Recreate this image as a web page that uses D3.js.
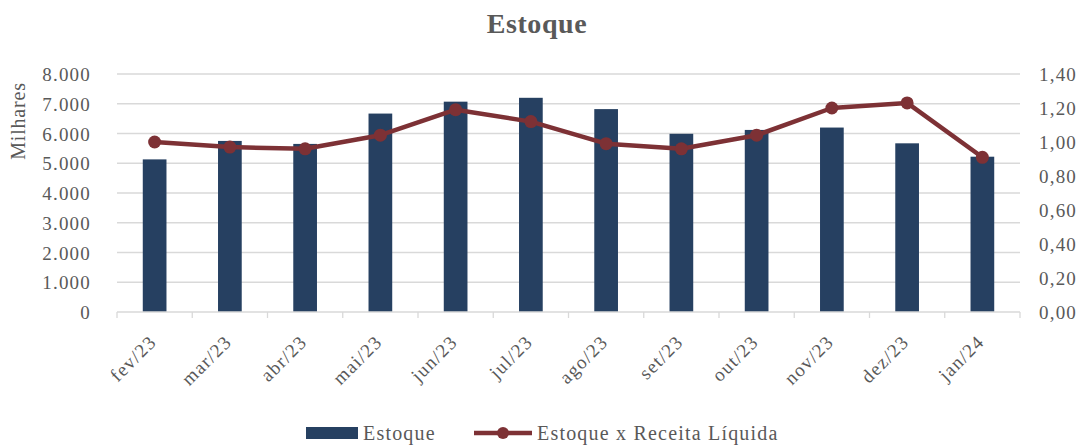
<!DOCTYPE html>
<html>
<head>
<meta charset="utf-8">
<script src="https://cdn.jsdelivr.net/npm/d3@7"></script>
<style>
  html, body { margin: 0; padding: 0; background: #fff; }
  svg { display: block; }
  text { font-family: "Liberation Serif", "Times New Roman", serif; fill: #595959; }
</style>
</head>
<body>
<svg id="chart" width="1082" height="445"></svg>
<script>
const categories = ["fev/23","mar/23","abr/23","mai/23","jun/23","jul/23","ago/23","set/23","out/23","nov/23","dez/23","jan/24"];
const estoque = [5130, 5750, 5650, 6670, 7070, 7200, 6820, 5990, 6120, 6200, 5670, 5220];
const ratio = [1.00, 0.97, 0.96, 1.04, 1.19, 1.12, 0.99, 0.96, 1.04, 1.20, 1.23, 0.91];
const leftTicks = [0, 1000, 2000, 3000, 4000, 5000, 6000, 7000, 8000];
const rightTicks = [0, 0.2, 0.4, 0.6, 0.8, 1.0, 1.2, 1.4];
const titleText = "Estoque";
const leftAxisTitle = "Milhares";
const seriesNames = ["Estoque", "Estoque x Receita Líquida"];

const barColor = "#264061";
const lineColor = "#7d3135";
const gridColor = "#d9d9d9";

const svg = d3.select("#chart");
const plot = { left: 117, right: 1020, top: 74, bottom: 312 };

const x = d3.scaleBand().domain(categories).range([plot.left, plot.right]).paddingInner(0).paddingOuter(0);
const yL = d3.scaleLinear().domain([0, 8000]).range([plot.bottom, plot.top]);
const yR = d3.scaleLinear().domain([0, 1.4]).range([plot.bottom, plot.top]);

const fmtL = v => d3.format(",")(v).replace(/,/g, ".");
const fmtR = v => d3.format(".2f")(v).replace(".", ",");

// gridlines
svg.append("g").selectAll("line").data(leftTicks.filter(d => d > 0)).join("line")
  .attr("x1", plot.left).attr("x2", plot.right)
  .attr("y1", d => yL(d)).attr("y2", d => yL(d))
  .attr("stroke", gridColor).attr("stroke-width", 1.3);

// left axis labels
const gL = svg.append("g").attr("transform", `translate(${plot.left},0)`)
  .call(d3.axisLeft(yL).tickValues(leftTicks).tickFormat(fmtL).tickSize(0).tickPadding(26));
gL.select(".domain").remove();
gL.selectAll("text").style("font-family", '"Liberation Serif", serif').style("font-size", "19px")
  .style("letter-spacing", "1.2px").attr("fill", "#595959").attr("dy", "0.35em");

// right axis labels
const gR = svg.append("g").attr("transform", `translate(${plot.right},0)`)
  .call(d3.axisRight(yR).tickValues(rightTicks).tickFormat(fmtR).tickSize(0).tickPadding(19));
gR.select(".domain").remove();
gR.selectAll("text").style("font-family", '"Liberation Serif", serif').style("font-size", "19px")
  .style("letter-spacing", "1.2px").attr("fill", "#595959").attr("dy", "0.35em");

// bars
const barW = x.bandwidth() * 0.315;
svg.append("g").selectAll("rect").data(categories).join("rect")
  .attr("x", (d) => x(d) + x.bandwidth() / 2 - barW / 2)
  .attr("y", (d, i) => yL(estoque[i]))
  .attr("width", barW)
  .attr("height", (d, i) => plot.bottom - yL(estoque[i]))
  .attr("fill", barColor);

// x axis
const gX = svg.append("g").attr("transform", `translate(0,${plot.bottom})`);
gX.append("line").attr("x1", plot.left).attr("x2", plot.right).attr("y1", 0).attr("y2", 0)
  .attr("stroke", gridColor).attr("stroke-width", 1.3);
const boundaries = categories.map(c => x(c)).concat([plot.right]);
gX.selectAll("line.tick").data(boundaries).join("line").attr("class", "tick")
  .attr("x1", d => d).attr("x2", d => d).attr("y1", 0).attr("y2", 6)
  .attr("stroke", gridColor).attr("stroke-width", 1.3);
gX.selectAll("text").data(categories).join("text")
  .attr("transform", d => `translate(${x(d) + x.bandwidth() / 2 + 3},${31}) rotate(-45)`)
  .attr("text-anchor", "end")
  .style("font-size", "19px").style("letter-spacing", "1.3px")
  .text(d => d);

// line
const line = d3.line().x((d, i) => x(categories[i]) + x.bandwidth() / 2).y(d => yR(d));
svg.append("path").datum(ratio).attr("d", line)
  .attr("fill", "none").attr("stroke", lineColor).attr("stroke-width", 4.5).attr("stroke-linejoin", "round");
svg.append("g").selectAll("circle").data(ratio).join("circle")
  .attr("cx", (d, i) => x(categories[i]) + x.bandwidth() / 2)
  .attr("cy", d => yR(d)).attr("r", 6.5).attr("fill", lineColor);

// title
svg.append("text").attr("x", 537).attr("y", 33).attr("text-anchor", "middle")
  .style("font-size", "28px").style("font-weight", "bold").style("letter-spacing", "0.6px")
  .text(titleText);

// left axis title
svg.append("text").attr("transform", "translate(25,121) rotate(-90)").attr("text-anchor", "middle")
  .style("font-size", "20px").style("letter-spacing", "0.8px").text(leftAxisTitle);

// legend
const lg = svg.append("g");
lg.append("rect").attr("x", 306).attr("y", 427).attr("width", 52).attr("height", 12).attr("fill", barColor);
lg.append("text").attr("x", 363).attr("y", 440).style("font-size", "20px").style("letter-spacing", "1.2px").text(seriesNames[0]);
lg.append("line").attr("x1", 474).attr("x2", 532).attr("y1", 433).attr("y2", 433)
  .attr("stroke", lineColor).attr("stroke-width", 4.5);
lg.append("circle").attr("cx", 503).attr("cy", 433).attr("r", 6).attr("fill", lineColor);
lg.append("text").attr("x", 537).attr("y", 440).style("font-size", "20px").style("letter-spacing", "1.2px").text(seriesNames[1]);
</script>
</body>
</html>
